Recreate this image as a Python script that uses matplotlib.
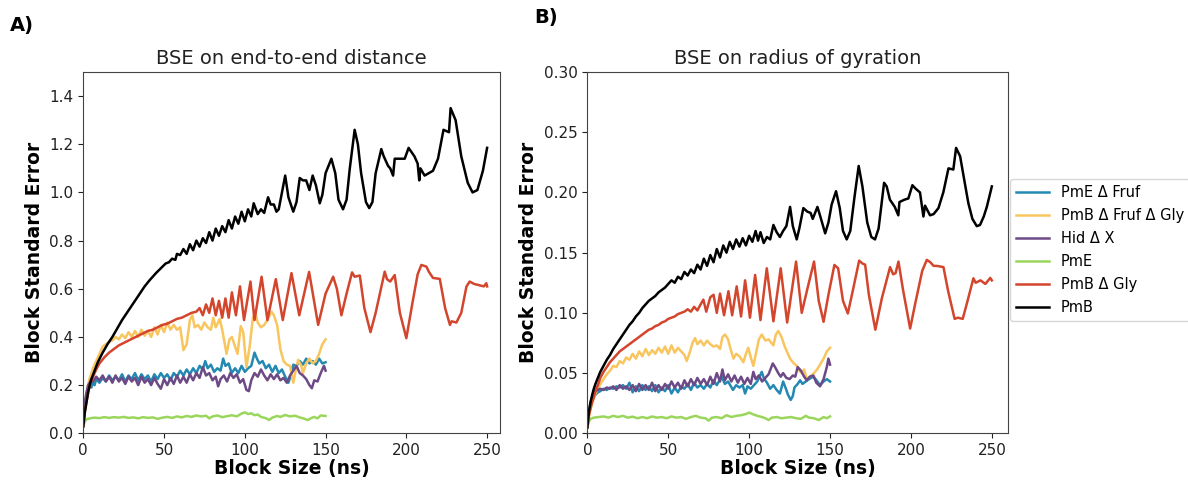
import numpy as np
import matplotlib
matplotlib.use("Agg")
from matplotlib import pyplot as plt

# (block size ns, block standard error) vertices
# panel A: end-to-end distance
pmb_a = [(0,0.03),(1,0.09),(2,0.13),(3,0.17),(4,0.20),(5,0.225),(7,0.26),(9,0.295),(12,0.335),(15,0.37),
         (18,0.40),(21,0.435),(24,0.47),(27,0.50),(31,0.54),(35,0.58),(38,0.61),(41,0.635),(45,0.665),(48,0.685),
         (51,0.705),(53,0.71),(55,0.725),(57,0.72),(58,0.745),(60,0.74),(62,0.765),(64,0.745),(66,0.785),(68,0.76),
         (70,0.80),(72,0.775),(74,0.81),(76,0.79),(78,0.835),(80,0.80),(82,0.85),(84,0.82),(86,0.86),(88,0.835),
         (90,0.885),(92,0.85),(94,0.9),(96,0.87),(98,0.92),(100,0.88),(102,0.93),(104,0.9),(105.5,0.955),(108,0.91),
         (110,0.93),(112,0.915),(114.4,0.98),(116,0.95),(118,0.95),(119.6,0.92),(121,0.93),(123,1.0),(125,1.07),(127,0.98),
         (130,0.92),(132,0.96),(134,1.06),(136,1.05),(138,1.05),(140,1.01),(142,1.07),(144,1.03),(146.4,0.955),(148,0.99),
         (150,1.08),(153.6,1.14),(156,1.08),(158,0.97),(160.8,0.93),(163,0.97),(165,1.1),(168,1.26),(170,1.2),(172,1.08),
         (175,0.96),(177,0.935),(179,0.96),(181,1.08),(184.5,1.18),(186,1.15),(188.7,1.11),(190,1.1),(191.8,1.07),(192.8,1.14),
         (196,1.14),(199,1.14),(201.4,1.185),(205,1.15),(207,1.12),(208,1.05),(208.7,1.10),(211.3,1.07),(216.5,1.09),(219.6,1.14),
         (223,1.26),(226.4,1.25),(227.4,1.35),(230.5,1.30),(234,1.15),(238,1.04),(241,1.0),(244,1.01),(247.4,1.09),(250,1.185)]
pmb_gly_a = [(0,0.03),(1,0.09),(2,0.13),(3,0.17),(4,0.20),(6,0.235),(8,0.265),(10,0.29),(13,0.315),(16,0.335),
             (19,0.35),(22,0.365),(25,0.375),(28,0.385),(31,0.395),(34,0.405),(37,0.415),(40,0.425),(43,0.43),(46,0.44),
             (49,0.45),(52,0.455),(55,0.465),(58,0.475),(61,0.48),(64,0.49),(67,0.50),(70,0.505),(72,0.52),(74,0.49),
             (76,0.535),(78,0.5),(80,0.56),(82,0.49),(84,0.55),(86,0.48),(88,0.56),(90,0.48),(92,0.585),(94.5,0.49),
             (97,0.61),(99.5,0.47),(103.5,0.63),(106,0.47),(110.4,0.65),(114,0.47),(119.2,0.64),(123.5,0.47),(128.9,0.665),(133.7,0.49),
             (139.8,0.67),(145.4,0.45),(150,0.58),(154.7,0.65),(157,0.6),(159.8,0.49),(163,0.58),(166.4,0.668),(168,0.65),(171.2,0.655),
             (174,0.52),(177.8,0.42),(181,0.5),(186.6,0.671),(188,0.64),(190,0.63),(192.8,0.657),(196,0.5),(200,0.395),(204,0.55),
             (207,0.66),(209.3,0.699),(212.4,0.692),(214,0.67),(216.5,0.645),(220.7,0.641),(224,0.52),(227,0.45),(228,0.465),(231,0.46),
             (234,0.5),(237.2,0.609),(239.2,0.63),(242,0.62),(245,0.615),(248,0.61),(249.5,0.623),(250,0.61)]
pmb_fruf_gly_a = [(0,0.03),(1,0.11),(2,0.16),(3,0.2),(4,0.23),(6,0.27),(8,0.30),(10,0.33),(12,0.36),(14,0.37),
                  (16,0.38),(18,0.385),(20,0.40),(22,0.39),(24,0.41),(26,0.395),(28,0.42),(30,0.40),(32,0.425),(34,0.40),
                  (36,0.43),(38,0.405),(40,0.425),(42,0.40),(44,0.44),(46,0.41),(48,0.45),(50,0.42),(52,0.46),(54,0.43),
                  (56,0.45),(58,0.43),(60,0.44),(62,0.345),(64,0.37),(66,0.47),(67.5,0.49),(69,0.44),(71,0.45),(73,0.43),
                  (75,0.46),(77,0.44),(79,0.43),(80.5,0.48),(82,0.44),(84.5,0.475),(86,0.43),(88.7,0.33),(90.5,0.39),(92,0.40),
                  (94,0.36),(95.5,0.33),(97.5,0.445),(99,0.42),(101,0.275),(103,0.36),(105,0.48),(106.5,0.5),(108,0.46),(110,0.44),
                  (112,0.45),(114,0.47),(116.5,0.505),(118,0.49),(120,0.45),(122,0.35),(124,0.30),(126,0.285),(128,0.28),(130,0.21),
                  (131.5,0.26),(133,0.305),(135,0.28),(136,0.25),(138,0.29),(140,0.31),(142,0.29),(144,0.30),(146,0.33),(148,0.37),(150,0.39)]
pme_fruf_a = [(0,0.03),(1,0.12),(2,0.165),(3,0.185),(4,0.195),(5,0.19),(6,0.21),(7,0.2),(8,0.225),(10,0.21),
              (12,0.23),(14,0.215),(16,0.24),(18,0.22),(20,0.235),(22,0.22),(24,0.245),(26,0.215),(28,0.24),(30,0.225),
              (32,0.25),(34,0.22),(36,0.245),(38,0.225),(40,0.24),(42,0.215),(44,0.245),(46,0.225),(48,0.25),(50,0.23),
              (52,0.245),(54,0.22),(56,0.25),(58,0.235),(60,0.26),(62,0.24),(64,0.265),(66,0.245),(68,0.27),(70,0.25),
              (72,0.28),(74,0.265),(75.5,0.30),(77,0.27),(79,0.285),(81,0.255),(83,0.27),(85,0.26),(86.6,0.31),(88,0.28),
              (90,0.29),(91.8,0.25),(94,0.27),(96,0.25),(98,0.28),(100,0.255),(102,0.27),(104,0.28),(106,0.335),(107.5,0.31),
              (109,0.29),(111,0.30),(113,0.27),(115,0.285),(117,0.255),(119,0.28),(121,0.25),(123,0.265),(125,0.235),(127,0.21),
              (128.5,0.24),(130,0.285),(132,0.28),(134,0.30),(136,0.285),(138,0.31),(140,0.29),(142,0.30),(144,0.285),(146,0.31),
              (148,0.29),(150,0.295)]
hid_x_a = [(0,0.03),(1,0.13),(2,0.17),(3,0.2),(4,0.21),(5,0.225),(6,0.215),(8,0.235),(10,0.22),(12,0.24),
           (14,0.215),(16,0.235),(18,0.21),(20,0.24),(22,0.215),(24,0.23),(26,0.205),(28,0.235),(30,0.215),(32,0.23),
           (34,0.2),(36,0.235),(38,0.21),(40,0.225),(42,0.2),(44,0.23),(46,0.205),(48,0.185),(50,0.225),(52,0.2),
           (54,0.23),(56,0.205),(58,0.24),(60,0.21),(62,0.235),(64,0.21),(66,0.245),(68,0.22),(70,0.25),(72,0.23),
           (74,0.275),(76,0.24),(78,0.25),(80,0.22),(82,0.235),(83.5,0.195),(85,0.225),(87,0.24),(89,0.215),(91,0.25),
           (93,0.23),(95,0.245),(97,0.21),(99,0.225),(101,0.18),(102.5,0.175),(104,0.22),(106,0.25),(108,0.235),(110,0.265),
           (112,0.24),(114,0.22),(116,0.245),(118,0.225),(120,0.245),(122,0.22),(124,0.23),(126,0.21),(128,0.24),(130,0.26),
           (132,0.28),(134,0.25),(136,0.24),(138,0.225),(140,0.2),(141.5,0.187),(143,0.22),(145,0.215),(147,0.25),(149,0.28),(150,0.26)]
pme_a = [(0,0.03),(1,0.05),(2,0.058),(4,0.062),(7,0.065),(10,0.063),(13,0.067),(16,0.064),(19,0.067),(22,0.065),
         (25,0.068),(28,0.064),(31,0.066),(34,0.062),(37,0.067),(40,0.064),(43,0.066),(46,0.06),(49,0.065),(52,0.068),
         (55,0.064),(58,0.07),(61,0.066),(64,0.072),(67,0.068),(70,0.074),(73,0.07),(76,0.073),(78,0.062),(80,0.07),
         (83,0.074),(86,0.067),(89,0.071),(92,0.075),(95,0.07),(98,0.082),(100,0.087),(102,0.08),(104,0.083),(106,0.075),
         (108,0.078),(110,0.068),(113,0.063),(115,0.055),(117,0.065),(120,0.072),(122,0.068),(125,0.076),(128,0.07),(131,0.073),
         (134,0.066),(137,0.06),(139,0.055),(141,0.063),(143,0.068),(145,0.062),(147,0.074),(150,0.072)]

# panel B: radius of gyration
pmb_b = [(0,0.005),(0.5,0.012),(1,0.018),(2,0.026),(3,0.032),(4,0.037),(5,0.041),(6.5,0.046),(8,0.051),(10,0.056),
         (12,0.061),(14,0.065),(16,0.07),(18,0.074),(20,0.078),(22,0.082),(24,0.086),(26,0.09),(28,0.093),(30,0.097),
         (32,0.1),(34,0.104),(36,0.107),(38,0.11),(40,0.112),(42,0.114),(44,0.117),(46,0.119),(48,0.121),(50,0.124),
         (52,0.127),(54,0.125),(56,0.13),(58,0.128),(60,0.134),(62,0.131),(64,0.136),(66,0.133),(68,0.14),(70,0.136),
         (72,0.145),(74,0.139),(76,0.148),(78,0.142),(80,0.153),(82,0.146),(84,0.156),(86,0.15),(88,0.159),(90,0.153),
         (92,0.161),(94,0.155),(96,0.162),(98,0.156),(100,0.164),(102,0.159),(104,0.168),(105.5,0.16),(107,0.167),(109,0.158),
         (111,0.163),(113,0.161),(115,0.173),(117,0.167),(119,0.163),(121,0.168),(123,0.172),(125.3,0.188),(127,0.172),(129.4,0.161),
         (131,0.17),(133.5,0.187),(136,0.184),(138,0.183),(139.3,0.178),(142.2,0.188),(144,0.18),(147,0.166),(149,0.175),(151,0.19),
         (153.7,0.201),(156,0.187),(158,0.168),(160.3,0.161),(162.5,0.168),(165,0.195),(167.7,0.222),(170,0.205),(173,0.175),(175.5,0.163),
         (177.8,0.161),(180,0.17),(183.4,0.208),(185,0.205),(187,0.194),(190,0.188),(192.2,0.181),(192.9,0.192),(196,0.194),(198.4,0.195),
         (200.9,0.206),(203,0.203),(205.6,0.2),(207.7,0.18),(208.7,0.189),(211.8,0.181),(214,0.182),(217,0.187),(220,0.2),(223.2,0.22),
         (226.2,0.219),(227.9,0.237),(230.4,0.23),(233,0.21),(235.5,0.191),(238,0.178),(240.7,0.172),(242.7,0.173),(245,0.18),(246.9,0.188),
         (250,0.205)]
pmb_gly_b = [(0,0.005),(0.5,0.01),(1,0.015),(2,0.021),(3,0.026),(4,0.03),(5,0.035),(6.5,0.04),(8,0.046),(10,0.051),
             (12,0.055),(14,0.059),(16,0.062),(18,0.065),(20,0.068),(22,0.07),(24,0.072),(26,0.074),(28,0.076),(30,0.078),
             (32,0.08),(34,0.082),(36,0.084),(38,0.086),(40,0.087),(42,0.089),(44,0.09),(46,0.092),(48,0.093),(50,0.095),
             (52,0.096),(54,0.097),(56,0.099),(58,0.1),(60,0.101),(62,0.103),(64,0.101),(66,0.105),(68,0.102),(70,0.107),
             (71.7,0.111),(73.5,0.101),(76,0.113),(78,0.115),(80,0.1),(82,0.116),(84.5,0.098),(87.2,0.118),(89.5,0.098),(92.3,0.122),
             (95,0.097),(97.5,0.127),(100.5,0.096),(103.7,0.1315),(107,0.094),(110.9,0.137),(115,0.093),(119.5,0.137),(123.5,0.092),(129,0.1426),
             (132.5,0.1),(136,0.12),(140.1,0.1426),(143,0.11),(146,0.0926),(149,0.115),(152.7,0.1398),(155,0.137),(158,0.11),(161,0.0995),
             (164,0.118),(168,0.1434),(170,0.141),(171.7,0.14),(174,0.115),(178,0.086),(182,0.112),(187.1,0.138),(189,0.132),(190.5,0.133),
             (192.3,0.1426),(195,0.12),(199.5,0.087),(203,0.11),(207,0.135),(209.8,0.144),(212,0.142),(214,0.139),(216,0.139),(220.1,0.138),
             (223,0.118),(227,0.095),(229,0.096),(232,0.095),(235,0.11),(238.6,0.1287),(240,0.125),(243,0.127),(246,0.124),(249,0.129),(250,0.127)]
pmb_fruf_gly_b = [(0,0.005),(1,0.014),(2,0.02),(3,0.025),(4,0.029),(5,0.033),(6.5,0.037),(8,0.041),(10,0.045),(12,0.049),
                  (14,0.052),(16,0.056),(18,0.055),(20,0.06),(22,0.058),(24,0.063),(26,0.061),(28,0.066),(30,0.062),(32,0.068),
                  (34,0.064),(36,0.07),(38,0.065),(40,0.069),(42,0.066),(44,0.071),(46,0.067),(48,0.072),(50,0.066),(52,0.073),
                  (54,0.067),(56,0.071),(58,0.068),(60,0.065),(61.4,0.06),(63,0.066),(65,0.075),(66.6,0.079),(68,0.074),(70,0.077),
                  (72,0.073),(74,0.077),(76,0.074),(77.9,0.072),(80,0.073),(82,0.07),(83.5,0.08),(85.1,0.082),(87,0.078),(88.5,0.07),
                  (90.3,0.062),(92,0.066),(94,0.064),(96.4,0.059),(98,0.066),(99.5,0.071),(101,0.063),(102.6,0.056),(104,0.065),(106,0.078),
                  (107.8,0.082),(110,0.077),(112,0.078),(115,0.073),(116.5,0.082),(118,0.085),(120,0.08),(122,0.072),(125.3,0.062),(127,0.059),
                  (129.4,0.056),(131,0.052),(132.5,0.05),(134,0.053),(135.6,0.045),(137.7,0.047),(140,0.05),(142,0.053),(143.8,0.057),(146,0.062),
                  (148,0.068),(150,0.071)]
pme_fruf_b = [(0,0.005),(1,0.017),(2,0.023),(3,0.027),(4,0.03),(5,0.032),(6.5,0.034),(8,0.035),(10,0.037),(12,0.036),
              (14,0.038),(16,0.037),(18,0.039),(20,0.038),(22,0.04),(24,0.037),(26,0.042),(28,0.034),(30,0.039),(32,0.035),
              (34,0.04),(36,0.036),(38,0.039),(40,0.035),(42,0.04),(44,0.034),(46,0.038),(48,0.035),(50,0.04),(52,0.033),
              (54,0.038),(56,0.034),(58,0.039),(60,0.037),(62,0.041),(64,0.036),(66,0.042),(68,0.038),(70,0.04),(72,0.037),
              (74,0.041),(76,0.038),(78,0.044),(80,0.04),(83,0.047),(85,0.041),(87,0.043),(90,0.036),(92,0.04),(94,0.038),
              (96,0.04),(97.5,0.033),(99,0.039),(101,0.037),(103,0.04),(105,0.043),(107.8,0.051),(109,0.046),(111,0.042),(113,0.037),
              (115,0.04),(117,0.036),(119,0.033),(121,0.043),(123,0.036),(124,0.032),(125.7,0.0277),(127,0.031),(128,0.038),(130,0.041),
              (131.5,0.044),(133,0.041),(135,0.043),(137,0.045),(139.7,0.047),(141,0.045),(143.8,0.04),(146,0.043),(148,0.045),(150,0.043)]
hid_x_b = [(0,0.005),(1,0.019),(2,0.026),(3,0.03),(4,0.033),(5,0.035),(6.5,0.036),(8,0.037),(10,0.036),(12,0.038),
           (14,0.037),(16,0.039),(18,0.036),(20,0.04),(22,0.037),(24,0.039),(26,0.036),(28,0.04),(30,0.035),(32,0.041),
           (34,0.036),(36,0.04),(38,0.036),(40,0.042),(42,0.035),(44,0.04),(46,0.036),(48,0.041),(50,0.037),(52,0.043),
           (54,0.038),(56,0.042),(58,0.037),(60,0.044),(62,0.039),(64,0.045),(66,0.04),(68,0.046),(70,0.041),(72,0.045),
           (74,0.04),(76,0.047),(78,0.041),(80,0.05),(82,0.043),(83.5,0.053),(85,0.044),(87,0.049),(89,0.043),(91,0.048),
           (93,0.042),(95,0.047),(97,0.041),(99,0.046),(101,0.041),(102.6,0.051),(104,0.045),(106,0.048),(108,0.043),(110,0.046),
           (112,0.049),(114.6,0.058),(116,0.055),(118,0.05),(119.5,0.047),(121,0.05),(123,0.046),(125,0.045),(127,0.048),(128.5,0.047),
           (130,0.055),(132,0.052),(134,0.047),(135.6,0.044),(137.5,0.047),(139.7,0.048),(141.5,0.042),(143.8,0.039),(146,0.045),(148,0.055),
           (149,0.062),(150,0.057)]
pme_b = [(0,0.005),(1,0.01),(2,0.012),(4,0.013),(7,0.0135),(10,0.014),(13,0.013),(16,0.0145),(19,0.0135),(22,0.0145),
         (25,0.013),(28,0.0138),(31,0.0125),(34,0.0135),(37,0.0125),(40,0.014),(43,0.013),(46,0.0135),(49,0.0125),(52,0.014),
         (55,0.013),(58,0.0135),(61,0.012),(64,0.0135),(67,0.0145),(70,0.013),(73,0.0125),(75,0.0105),(77,0.013),(80,0.0135),
         (83,0.0125),(86,0.015),(89,0.0135),(92,0.0145),(95,0.015),(98,0.016),(100,0.0172),(102,0.016),(105,0.0145),(108,0.0135),
         (110,0.0125),(112,0.011),(114,0.013),(117,0.0135),(120,0.0125),(123,0.013),(126,0.0135),(129,0.0125),(132,0.012),(135,0.0145),
         (137,0.013),(140,0.0125),(143,0.011),(146,0.0135),(148,0.0125),(150,0.014)]

labels = ['PmE \u0394 Fruf', 'PmB \u0394 Fruf \u0394 Gly', 'Hid \u0394 X', 'PmE', 'PmB \u0394 Gly', 'PmB']
colors = ['#2389b2', '#f8c55e', '#6d4a85', '#9bd65c', '#d3452c', 'black']
series_a = [pme_fruf_a, pmb_fruf_gly_a, hid_x_a, pme_a, pmb_gly_a, pmb_a]
series_b = [pme_fruf_b, pmb_fruf_gly_b, hid_x_b, pme_b, pmb_gly_b, pmb_b]

fig = plt.figure(figsize=(11.88, 4.8), dpi=100)
ax1 = fig.add_axes([0.0701, 0.0973, 0.3508, 0.7527])
ax2 = fig.add_axes([0.4944, 0.0973, 0.3541, 0.7527])

for ax, series, title, ylim, xmax in [(ax1, series_a, 'BSE on end-to-end distance', 1.5, 258),
                                      (ax2, series_b, 'BSE on radius of gyration', 0.30, 260)]:
    for pts, lab, col in zip(series, labels, colors):
        arr = np.array(pts)
        ax.plot(arr[:, 0], arr[:, 1], color=col, lw=1.8, label=lab)
    ax.set_xlim(0, xmax)
    ax.set_ylim(0, ylim)
    ax.set_xticks([0, 50, 100, 150, 200, 250])
    ax.set_title(title, fontsize=14, color='#222222')
    ax.set_xlabel('Block Size (ns)', fontsize=13.5, fontweight='bold', labelpad=1)
    ax.set_ylabel('Block Standard Error', fontsize=13.5, fontweight='bold')
    ax.tick_params(labelsize=11, colors='#222222')
    for sp in ax.spines.values():
        sp.set_color('#444444')

ax2.set_yticks([0, 0.05, 0.10, 0.15, 0.20, 0.25, 0.30])
ax2.set_yticklabels(['0.00', '0.05', '0.10', '0.15', '0.20', '0.25', '0.30'])

fig.text(0.008, 0.935, 'A)', fontsize=14, fontweight='bold')
fig.text(0.450, 0.952, 'B)', fontsize=14, fontweight='bold')

fig.legend(*ax2.get_legend_handles_labels(), loc='upper left',
           bbox_to_anchor=(1010 / 1188, 1 - 179 / 480), fontsize=10.5,
           handlelength=2.3, labelspacing=0.55, borderaxespad=0, frameon=True)

fig.savefig('out.png', dpi=100)
